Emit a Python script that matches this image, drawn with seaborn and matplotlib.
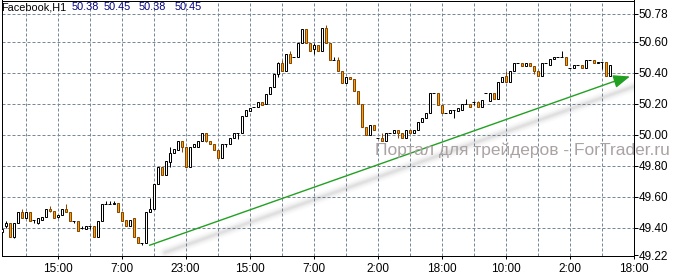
import matplotlib
matplotlib.use("Agg")
import matplotlib.pyplot as plt
import seaborn as sns
import pandas as pd

# ---------------- data ----------------
open_ = [49.37, 49.41, 49.43, 49.34, 49.43, 49.50, 49.46, 49.50, 49.45, 49.43,
         49.45, 49.47, 49.52, 49.51, 49.47, 49.48, 49.52, 49.50, 49.44, 49.44,
         49.40, 49.39, 49.41, 49.41, 49.34, 49.44, 49.55, 49.55, 49.55, 49.56,
         49.50, 49.45, 49.41, 49.46, 49.34, 49.30, 49.30, 49.50, 49.52, 49.68,
         49.79, 49.74, 49.82, 49.88, 49.90, 49.96, 49.92, 49.79, 49.92, 49.92,
         49.96, 50.01, 49.96, 49.94, 49.90, 49.85, 49.94, 49.94, 49.98, 50.01,
         50.01, 50.12, 50.15, 50.18, 50.18, 50.21, 50.20, 50.26, 50.31, 50.39,
         50.46, 50.41, 50.52, 50.50, 50.50, 50.59, 50.68, 50.59, 50.55, 50.58,
         50.54, 50.69, 50.59, 50.48, 50.48, 50.41, 50.33, 50.37, 50.36, 50.28,
         50.20, 50.05, 50.00, 50.06, 49.98, 49.98, 49.96, 50.01, 50.01, 50.03,
         50.01, 49.98, 50.03, 50.01, 50.03, 50.08, 50.11, 50.14, 50.27, 50.27,
         50.19, 50.14, 50.14, 50.16, 50.15, 50.16, 50.20, 50.20, 50.21, 50.21,
         50.18, 50.27, 50.22, 50.27, 50.23, 50.34, 50.38, 50.34, 50.41, 50.46,
         50.46, 50.44, 50.46, 50.44, 50.41, 50.38, 50.46, 50.45, 50.49, 50.50,
         50.50, 50.50, 50.43, 50.43, 50.45, 50.45, 50.43, 50.48, 50.48, 50.46,
         50.47, 50.47, 50.38]
high = [49.39, 49.44, 49.43, 49.43, 49.50, 49.52, 49.50, 49.50, 49.45, 49.46,
        49.47, 49.52, 49.54, 49.51, 49.48, 49.52, 49.55, 49.50, 49.44, 49.44,
        49.41, 49.41, 49.41, 49.41, 49.44, 49.55, 49.57, 49.57, 49.57, 49.56,
        49.50, 49.45, 49.45, 49.46, 49.34, 49.30, 49.50, 49.59, 49.68, 49.79,
        49.79, 49.83, 49.92, 49.91, 49.96, 49.96, 49.92, 49.92, 49.94, 49.96,
        50.01, 50.01, 49.96, 49.94, 49.90, 49.94, 49.94, 49.98, 50.01, 50.01,
        50.12, 50.16, 50.17, 50.18, 50.21, 50.21, 50.26, 50.31, 50.39, 50.47,
        50.48, 50.52, 50.54, 50.50, 50.59, 50.68, 50.68, 50.59, 50.59, 50.58,
        50.69, 50.71, 50.59, 50.50, 50.50, 50.41, 50.37, 50.37, 50.36, 50.28,
        50.20, 50.05, 50.06, 50.06, 49.98, 50.01, 50.01, 50.01, 50.03, 50.03,
        50.01, 50.03, 50.03, 50.03, 50.08, 50.11, 50.14, 50.27, 50.27, 50.27,
        50.19, 50.14, 50.16, 50.16, 50.17, 50.20, 50.23, 50.20, 50.22, 50.22,
        50.22, 50.27, 50.27, 50.27, 50.34, 50.37, 50.41, 50.41, 50.46, 50.46,
        50.46, 50.46, 50.46, 50.44, 50.41, 50.46, 50.46, 50.49, 50.50, 50.50,
        50.54, 50.50, 50.43, 50.45, 50.45, 50.45, 50.48, 50.48, 50.48, 50.47,
        50.47, 50.47, 50.45]
low = [49.34, 49.40, 49.34, 49.33, 49.43, 49.46, 49.46, 49.44, 49.43, 49.42,
       49.45, 49.47, 49.50, 49.46, 49.46, 49.48, 49.50, 49.44, 49.43, 49.38,
       49.39, 49.39, 49.39, 49.34, 49.34, 49.44, 49.55, 49.55, 49.55, 49.50,
       49.44, 49.41, 49.41, 49.34, 49.30, 49.29, 49.30, 49.50, 49.52, 49.68,
       49.74, 49.74, 49.79, 49.88, 49.90, 49.89, 49.79, 49.79, 49.92, 49.92,
       49.96, 49.95, 49.94, 49.90, 49.85, 49.85, 49.92, 49.94, 49.98, 49.97,
       50.01, 50.12, 50.15, 50.18, 50.18, 50.19, 50.20, 50.26, 50.31, 50.37,
       50.41, 50.41, 50.46, 50.50, 50.50, 50.59, 50.59, 50.54, 50.52, 50.54,
       50.54, 50.59, 50.48, 50.48, 50.41, 50.33, 50.33, 50.36, 50.28, 50.20,
       50.05, 50.00, 50.00, 50.03, 49.98, 49.96, 49.96, 50.01, 50.01, 49.98,
       49.98, 49.98, 50.01, 50.01, 50.03, 50.08, 50.11, 50.14, 50.27, 50.19,
       50.14, 50.14, 50.14, 50.11, 50.15, 50.16, 50.20, 50.18, 50.19, 50.18,
       50.18, 50.27, 50.22, 50.23, 50.23, 50.34, 50.34, 50.34, 50.41, 50.46,
       50.44, 50.44, 50.44, 50.39, 50.38, 50.38, 50.46, 50.45, 50.49, 50.50,
       50.50, 50.45, 50.43, 50.43, 50.45, 50.43, 50.43, 50.48, 50.46, 50.46,
       50.42, 50.38, 50.38]
close = [49.39, 49.43, 49.34, 49.43, 49.50, 49.46, 49.50, 49.44, 49.45, 49.46,
         49.47, 49.52, 49.51, 49.46, 49.48, 49.52, 49.50, 49.44, 49.44, 49.38,
         49.40, 49.41, 49.41, 49.34, 49.44, 49.55, 49.55, 49.55, 49.56, 49.50,
         49.44, 49.41, 49.45, 49.34, 49.30, 49.30, 49.50, 49.52, 49.68, 49.79,
         49.74, 49.83, 49.88, 49.91, 49.96, 49.92, 49.79, 49.92, 49.94, 49.96,
         50.01, 49.96, 49.94, 49.90, 49.85, 49.94, 49.94, 49.98, 50.01, 50.01,
         50.12, 50.16, 50.17, 50.18, 50.21, 50.19, 50.26, 50.31, 50.39, 50.46,
         50.41, 50.52, 50.46, 50.50, 50.59, 50.68, 50.59, 50.54, 50.58, 50.54,
         50.69, 50.59, 50.48, 50.48, 50.41, 50.33, 50.37, 50.36, 50.28, 50.20,
         50.05, 50.00, 50.06, 50.03, 49.98, 49.96, 50.01, 50.01, 50.03, 50.01,
         49.98, 50.03, 50.01, 50.03, 50.08, 50.11, 50.14, 50.27, 50.27, 50.19,
         50.14, 50.14, 50.16, 50.16, 50.17, 50.20, 50.20, 50.18, 50.21, 50.18,
         50.22, 50.27, 50.27, 50.23, 50.34, 50.37, 50.34, 50.41, 50.46, 50.46,
         50.44, 50.46, 50.44, 50.41, 50.38, 50.46, 50.46, 50.49, 50.50, 50.50,
         50.50, 50.45, 50.43, 50.45, 50.45, 50.43, 50.48, 50.48, 50.46, 50.47,
         50.47, 50.38, 50.45]

x_tick_pos = [14, 30, 46, 62, 78, 94, 110, 126, 142, 158]
x_tick_labels = ["15:00", "7:00", "23:00", "15:00", "7:00", "2:00",
                 "18:00", "10:00", "2:00", "18:00"]
x_grid_minor = [6, 22, 38, 54, 70, 86, 102, 118, 134, 150]
y_ticks = [49.22, 49.40, 49.60, 49.80, 50.00, 50.20, 50.40, 50.60, 50.78]
y_tick_labels = ["49.22", "49.40", "49.60", "49.80", "50.00", "50.20",
                 "50.40", "50.60", "50.78"]
trend_x = [36.9, 155.0]
trend_y = [49.285, 50.360]
arrow_tip = (157.1, 50.375)
title_name = "Facebook,H1"
title_values = ["50.38", "50.45", "50.38", "50.45"]
watermark = "Портал для трейдеров - ForTrader.ru"

# ---------------- style ----------------
sns.set_style("white")
plt.rcParams["font.family"] = ["Liberation Sans", "DejaVu Sans"]
plt.rcParams["lines.solid_capstyle"] = "butt"

W, H = 693, 277
fig = plt.figure(figsize=(W / 100, H / 100), dpi=100)
ax = fig.add_axes([1.5 / W, 21.5 / H, 632 / W, 255 / H])
ax.set_xlim(0, 158)
ax.set_ylim(49.22, 49.22 + 255 / 155)

df = pd.DataFrame({"o": open_, "h": high, "l": low, "c": close})
df["x"] = range(len(df))
df["bull"] = df["c"] >= df["o"]
df["doji"] = (df["c"] - df["o"]).abs() < 0.005

px = 0.72  # one pixel in points
grid_c = "#778899"
bear_fill = "#F2A20C"
bear_edge = "#8A4600"

# grid
for gx in x_grid_minor + x_tick_pos[:-1]:
    ax.axvline(gx, color=grid_c, lw=px, ls=(0, (3, 2)), zorder=0)
for gy in y_ticks[1:]:
    ax.axhline(gy, color=grid_c, lw=px, ls=(0, (3, 2)), zorder=0)

# trend line shadow (soft)
for lw_, a_ in [(8, 0.025), (5.5, 0.035), (3.5, 0.045), (1.8, 0.06)]:
    ax.plot([trend_x[0] + 4.0, arrow_tip[0] + 1.5],
            [trend_y[0] - 0.045, arrow_tip[1] - 0.06],
            color="#404040", lw=lw_, alpha=a_, solid_capstyle="round", zorder=1)

# wicks
for _, r in df.iterrows():
    col = "black" if (r["bull"] or r["doji"]) else bear_edge
    if r["h"] > r["l"]:
        ax.vlines(r["x"], r["l"], r["h"], color=col, lw=px, zorder=2)

# bodies
body = df[~df["doji"]]
bull = body[body["bull"]]
bear = body[~body["bull"]]
ax.bar(bull["x"], (bull["c"] - bull["o"]), bottom=bull["o"], width=0.5,
       color="white", edgecolor="black", linewidth=px, zorder=3)
ax.bar(bear["x"], (bear["o"] - bear["c"]), bottom=bear["c"], width=0.5,
       color=bear_fill, edgecolor=bear_edge, linewidth=px, zorder=3)
dj = df[df["doji"]]
ax.hlines(dj["c"], dj["x"] - 0.375, dj["x"] + 0.375, color="black", lw=px, zorder=3)

# trend line (seaborn) + arrowhead
green = "#22A022"
sns.lineplot(x=trend_x, y=trend_y, ax=ax, color=green, lw=1.0, zorder=4)
ax.annotate("", xy=arrow_tip, xytext=(trend_x[1] - 2, trend_y[1] - 0.0185),
            arrowprops=dict(arrowstyle="-|>,head_length=1.0,head_width=0.4",
                            color=green, lw=1.0, shrinkA=0, shrinkB=0),
            zorder=5, annotation_clip=False)

# axes
for s in ["left", "right", "top", "bottom"]:
    ax.spines[s].set_visible(True)
    ax.spines[s].set_color("black")
    ax.spines[s].set_linewidth(px)
ax.yaxis.tick_right()
ax.set_yticks(y_ticks)
ax.set_yticklabels(y_tick_labels)
ax.set_xticks(x_tick_pos)
ax.set_xticklabels(x_tick_labels)
ax.tick_params(axis="y", which="both", right=True, left=False, length=4 * px,
               width=px, color="black", pad=1.0, labelsize=8.5, labelcolor="black")
ax.tick_params(axis="x", which="both", bottom=True, length=3 * px, width=px,
               color="black", pad=3.0, labelsize=8.5, labelcolor="black")
ax.set_xlabel("")
ax.set_ylabel("")

# title
fig.text(1.5 / W, 1 - 7.5 / H, title_name, fontsize=7.8, color="black",
         va="center", ha="left")
for xp, t in zip([72, 104, 139, 175], title_values):
    fig.text(xp / W, 1 - 7.5 / H, t, fontsize=7.8, color="#000080",
             va="center", ha="left")

# watermark
fig.text(375 / W, 1 - 150 / H, watermark, fontsize=12.5, color="#ABA3A3",
         va="center", ha="left", zorder=6)

fig.savefig("out.png", dpi=100)
